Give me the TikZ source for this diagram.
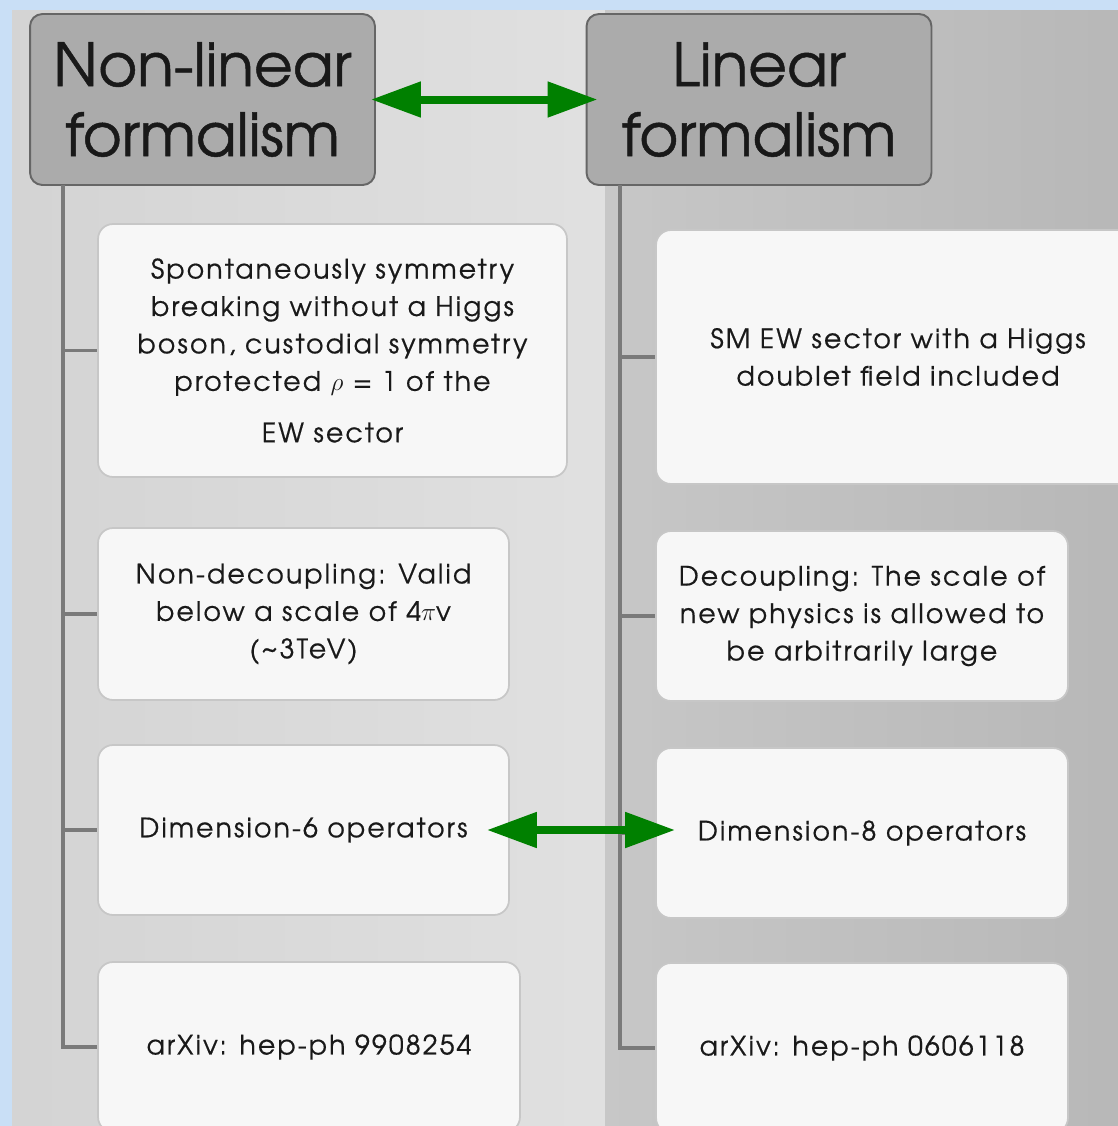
\documentclass[tikz,border=0pt]{standalone}
\usepackage{fontspec}
\setmainfont{TeX Gyre Adventor}
\newfontfamily\itemfont{TeX Gyre Adventor}[LetterSpace=8,FakeBold=0.6]
\newfontfamily\headfont{TeX Gyre Adventor}[FakeBold=0.8]
\usetikzlibrary{arrows.meta}
\definecolor{skyblue}{HTML}{C9DFF6}
\definecolor{arrowgreen}{HTML}{008000}

\begin{document}
\begin{tikzpicture}[x=0.02cm,y=-0.02cm,
    every node/.style={font=\itemfont\fontsize{15.2}{21.3}\selectfont,text=black!90},
    head/.style={draw=black!60,line width=1.1pt,fill=black!33,rounded corners=7pt,align=center,
        font=\headfont\fontsize{34}{39.8}\selectfont,minimum width=6.9cm,minimum height=3.42cm},
    item/.style={draw=black!22,line width=1pt,fill=black!3,rounded corners=8.5pt,align=center},
    tree/.style={draw=black!52,line width=1.9pt},
    both/.style={{Triangle[length=1cm,width=0.68cm]}-{Triangle[length=1cm,width=0.68cm]},
        line width=0.16cm,draw=arrowgreen}]
        \clip (0,0) rectangle (1118,1126);
        \fill[skyblue] (0,0) rectangle (1118,1126);
        \shade[left color=black!17,right color=black!12] (12,10) rectangle (605,1126);
        \shade[left color=black!22,right color=black!28] (605,10) rectangle (1118,1126);
        \node[head] (nl) at (202.5,99.5) {Non-linear\\formalism};
        \node[head] (li) at (759,99.5) {Linear\\formalism};
        \coordinate (lt) at (63,185);
        \coordinate (rt) at (620,185);
        \node[item,minimum width=9.38cm,minimum height=5.06cm] (a1) at (332.5,350.5) {Spontaneously symmetry\\breaking without a Higgs\\boson, custodial symmetry\\protected $\rho$ = 1 of the\\[8pt]EW sector};
        \node[item,minimum width=8.22cm,minimum height=3.44cm] (a2) at (303.5,614) {Non-decoupling: Valid\\below a scale of 4$\pi$v\\(\textasciitilde3TeV)};
        \node[item,minimum width=8.22cm,minimum height=3.4cm] (a3) at (303.5,830) {Dimension-6 operators};
        \node[item,minimum width=8.44cm,minimum height=3.4cm] (a4) at (309,1047) {arXiv: hep-ph 9908254};
        \node[item,minimum width=9.68cm,minimum height=5.08cm] (b1) at (898,357) {SM EW sector with a Higgs\\doublet field included};
        \node[item,minimum width=8.24cm,minimum height=3.4cm] (b2) at (862,616) {Decoupling: The scale of\\new physics is allowed to\\be arbitrarily large};
        \node[item,minimum width=8.24cm,minimum height=3.4cm] (b3) at (862,833) {Dimension-8 operators};
        \node[item,minimum width=8.24cm,minimum height=3.4cm] (b4) at (862,1048) {arXiv: hep-ph 0606118};
        \draw[tree] (lt) |- (a4.west);
        \draw[tree] (a1.west -| lt) -- (a1.west);
        \draw[tree] (a2.west -| lt) -- (a2.west);
        \draw[tree] (a3.west -| lt) -- (a3.west);
        \draw[tree] (rt) |- (b4.west);
        \draw[tree] (b1.west -| rt) -- (b1.west);
        \draw[tree] (b2.west -| rt) -- (b2.west);
        \draw[tree] (b3.west -| rt) -- (b3.west);
        \draw[both,shorten <=-0.1cm,shorten >=-0.24cm] (nl.east) -- (li.west);
        \draw[both,shorten <=-0.46cm,shorten >=-0.4cm] (a3.east) -- (a3.east -| b3.west);
    \end{tikzpicture}
\end{document}
